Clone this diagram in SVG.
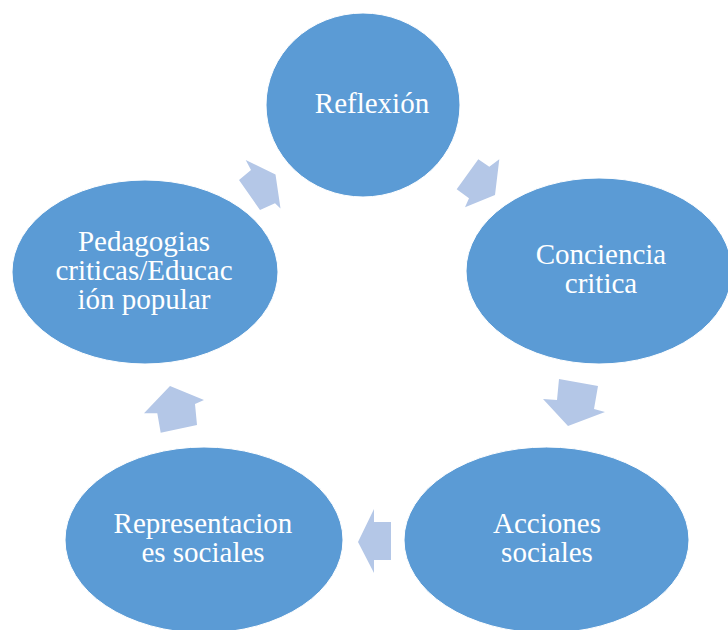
<svg xmlns="http://www.w3.org/2000/svg" width="728" height="630" viewBox="0 0 728 630">
<style>
.node ellipse{fill:#5B9BD5;stroke:#ffffff;stroke-width:1}
.node text{fill:#ffffff;font-family:"Liberation Serif","Times New Roman",serif;font-size:29px;text-anchor:middle}
.arr{fill:#B4C7E7;stroke:none}
</style>
<rect width="728" height="630" fill="#ffffff"/>
<g id="connectors">
<polygon class="arr" points="245.7,160 251,170 239,180 260,210 275,203.3 280.5,208.5 275.5,174.5"/>
<polygon class="arr" points="499.3,159.3 495,195 465,207.3 469,198.3 456.7,189.3 478.3,159.3 489.3,166.7"/>
<polygon class="arr" points="559,379 598,386 594,409 605,412 568,426 543,399 557,400"/>
<polygon class="arr" points="358,542 374,509 374,522 391,522 391,560 374,560 374,573"/>
<polygon class="arr" points="170,386 204,400 195,404 197,425 160.7,432.7 157.3,413.3 144,413.3"/>
</g>
<g id="reflexion" class="node">
<ellipse cx="363" cy="105" rx="97" ry="92"/>
<text x="372" y="113">Reflexión</text>
</g>
<g id="conciencia" class="node">
<ellipse cx="599" cy="271" rx="133" ry="93"/>
<text x="601" y="264">Conciencia</text>
<text x="601" y="293">critica</text>
</g>
<g id="acciones" class="node">
<ellipse cx="546.5" cy="540" rx="142.5" ry="93"/>
<text x="547" y="533">Acciones</text>
<text x="547" y="562">sociales</text>
</g>
<g id="representaciones" class="node">
<ellipse cx="204" cy="540" rx="139" ry="93"/>
<text x="203" y="533">Representacion</text>
<text x="203" y="562">es sociales</text>
</g>
<g id="pedagogias" class="node">
<ellipse cx="145" cy="272" rx="133" ry="92"/>
<text x="144" y="251">Pedagogias</text>
<text x="144" y="280">criticas/Educac</text>
<text x="144" y="309">ión popular</text>
</g>
</svg>
